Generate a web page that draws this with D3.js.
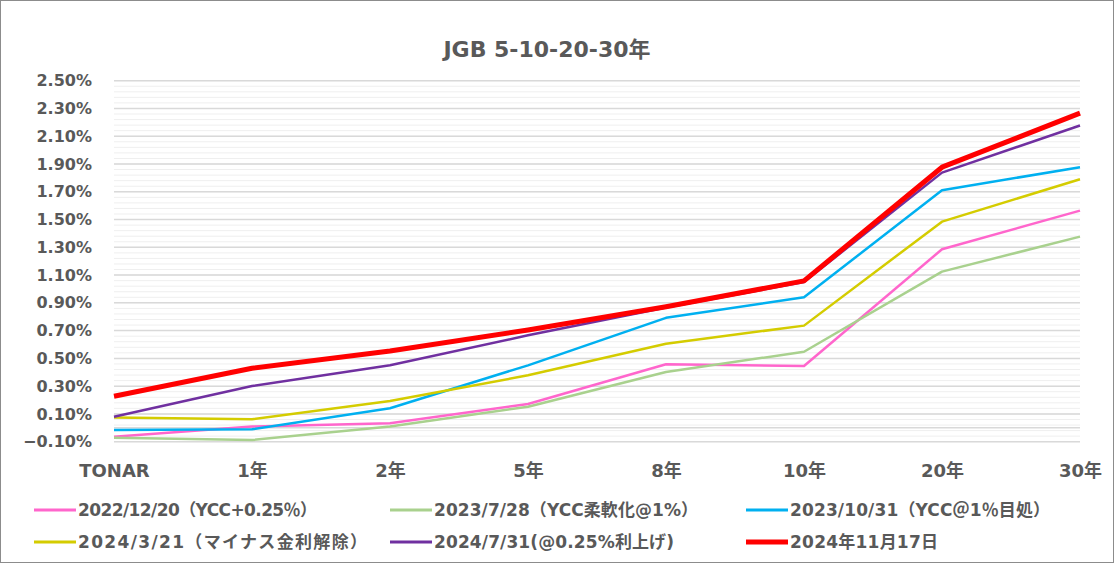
<!DOCTYPE html>
<html>
<head>
<meta charset="utf-8">
<script src="https://cdn.jsdelivr.net/npm/d3@7"></script>
<style>
    body { margin: 0; background: #fff; }
    text { font-family: "DejaVu Sans", "Noto Sans CJK JP", sans-serif; font-weight: bold; fill: #595959; }
</style>
</head>
<body>
<svg id="paper"></svg>
<script>
// categories on the x axis (maturity)
let categories = ["TONAR", "1年", "2年", "5年", "8年", "10年", "20年", "30年"];

// yields in %, one array per date
let yc20221220 = [-0.064, 0.010, 0.033, 0.172, 0.458, 0.445, 1.286, 1.564];
let yc20230728 = [-0.071, -0.088, 0.010, 0.152, 0.402, 0.548, 1.125, 1.377];
let yc20231031 = [-0.016, -0.011, 0.141, 0.450, 0.792, 0.940, 1.711, 1.877];
let yc20240321 = [0.075, 0.061, 0.193, 0.378, 0.606, 0.736, 1.485, 1.790];
let yc20240731 = [0.080, 0.301, 0.450, 0.666, 0.866, 1.050, 1.838, 2.177];
let yc20241117 = [0.227, 0.429, 0.553, 0.705, 0.872, 1.058, 1.877, 2.266];

let seriesNames = [
    "2022/12/20（YCC+0.25％）",
    "2023/7/28（YCC柔軟化@1%）",
    "2023/10/31（YCC＠1％目処）",
    "2024/3/21（マイナス金利解除）",
    "2024/7/31(@0.25%利上げ)",
    "2024年11月17日"
];
let seriesValues = [yc20221220, yc20230728, yc20231031, yc20240321, yc20240731, yc20241117];

// y tick labels
let yTickValues = [-0.1, 0.1, 0.3, 0.5, 0.7, 0.9, 1.1, 1.3, 1.5, 1.7, 1.9, 2.1, 2.3, 2.5];

let title = "JGB 5-10-20-30年";

// styles
let colors = ["#ff66cc", "#a9d18e", "#00b0f0", "#d4cc00", "#7030a0", "#ff0000"];
let widths = [2.5, 2.5, 2.5, 2.5, 2.5, 5];
let legendTextLen = [239, 264, 260, 289, 240, 148];

let W = 1116, H = 565;
let margin = {top: 80.7, right: 36, bottom: 123.3, left: 114};

let svg = d3.select("#paper").attr("width", W).attr("height", H);

// chart border
svg.append("rect")
    .attr("x", 0.5).attr("y", 0.5)
    .attr("width", 1113).attr("height", 562)
    .attr("fill", "#fff")
    .attr("stroke", "#8c8c8c");

let x = d3.scalePoint().domain(categories).range([margin.left, W - margin.right]);
let y = d3.scaleLinear().domain([-0.1, 2.5]).range([H - margin.bottom, margin.top]);

// minor gridlines every 0.04%
let minor = d3.range(0, 66).map(i => -0.1 + i * 0.04);
svg.append("g").selectAll("line")
    .data(minor)
    .enter()
    .append("line")
    .attr("x1", margin.left).attr("x2", W - margin.right)
    .attr("y1", d => y(d)).attr("y2", d => y(d))
    .style("stroke", "#efefef")
    .style("stroke-width", 1);

// major gridlines + zero line
svg.append("g").selectAll("line")
    .data(yTickValues.concat([0]))
    .enter()
    .append("line")
    .attr("x1", margin.left).attr("x2", W - margin.right)
    .attr("y1", d => y(d)).attr("y2", d => y(d))
    .style("stroke", "#d9d9d9")
    .style("stroke-width", 1.5);

// y axis
let yAxis = svg.append("g")
    .attr("transform", "translate(" + margin.left + ",0)")
    .call(d3.axisLeft(y).tickValues(yTickValues).tickSize(0).tickPadding(22)
        .tickFormat(d => d3.format(".2f")(d) + "%"));
yAxis.select(".domain").remove();
yAxis.selectAll("text").style("font-size", "16px").style("font-family", null).attr("fill", null);

// x axis
let xAxis = svg.append("g")
    .attr("transform", "translate(0," + y(-0.1) + ")")
    .call(d3.axisBottom(x).tickSize(0).tickPadding(23));
xAxis.select(".domain").remove();
xAxis.selectAll("text").style("font-size", "18px").style("font-family", null).attr("fill", null);

// series lines
let line = d3.line()
    .x((d, i) => x(categories[i]))
    .y(d => y(d));

svg.append("g").selectAll("path")
    .data(seriesValues)
    .enter()
    .append("path")
    .attr("d", line)
    .attr("fill", "none")
    .style("stroke", (d, i) => colors[i])
    .style("stroke-width", (d, i) => widths[i])
    .style("stroke-linejoin", "round");

// title
svg.append("text")
    .attr("x", 547).attr("y", 57)
    .attr("text-anchor", "middle")
    .style("font-size", "22px")
    .text(title);

// legend, 3 columns x 2 rows
let colX = [34, 390, 746];
let rowY = [510, 542];
let legend = svg.append("g").selectAll("g")
    .data(seriesNames)
    .enter()
    .append("g")
    .attr("transform", (d, i) => "translate(" + colX[i % 3] + "," + rowY[Math.floor(i / 3)] + ")");

legend.append("line")
    .attr("x1", 0).attr("x2", 42)
    .style("stroke", (d, i) => colors[i])
    .style("stroke-width", (d, i) => i === 5 ? 5 : 3);

legend.append("text")
    .attr("x", 44).attr("dy", "0.36em")
    .attr("textLength", (d, i) => legendTextLen[i])
    .attr("lengthAdjust", "spacing")
    .style("font-size", "17px")
    .text(d => d);
</script>
</body>
</html>
